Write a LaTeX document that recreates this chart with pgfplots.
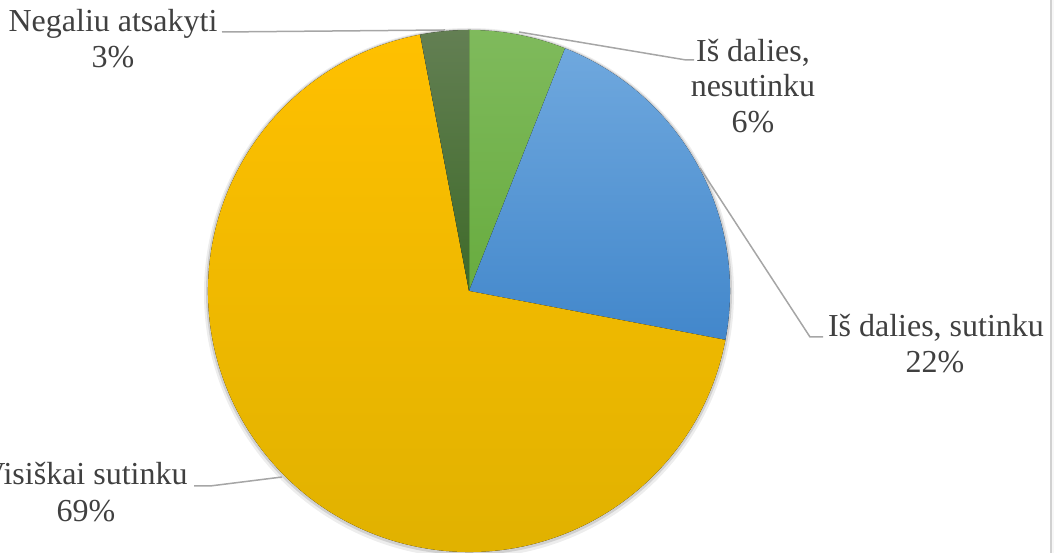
\documentclass[border=0pt]{standalone}
\usepackage{pgfplots}
\pgfplotsset{compat=1.18}
\usepackage{pgfplotstable}
\usepackage{fontspec}
\setmainfont{Liberation Serif}
\definecolor{txt}{HTML}{404040}
\definecolor{lead}{HTML}{A6A6A6}
\definecolor{gAt}{HTML}{7FBA5C}\definecolor{gAb}{HTML}{68AC3F}
\definecolor{bAt}{HTML}{6FA8DE}\definecolor{bAb}{HTML}{4287CB}
\definecolor{yAt}{HTML}{FFC000}\definecolor{yAb}{HTML}{DFB100}
\definecolor{dAt}{HTML}{637F53}\definecolor{dAb}{HTML}{3E6A29}
\pgfplotstableread{
value
6
22
69
3
}\piedata
\pgfplotstablegetelem{0}{value}\of\piedata \let\vA\pgfplotsretval
\pgfplotstablegetelem{1}{value}\of\piedata \let\vB\pgfplotsretval
\pgfplotstablegetelem{2}{value}\of\piedata \let\vC\pgfplotsretval
\pgfplotstablegetelem{3}{value}\of\piedata \let\vD\pgfplotsretval
\pgfmathsetmacro\aO{90}
\pgfmathsetmacro\aA{\aO-3.6*\vA}
\pgfmathsetmacro\aB{\aA-3.6*\vB}
\pgfmathsetmacro\aC{\aB-3.6*\vC}
\pgfmathsetmacro\aD{\aC-3.6*\vD}
\begin{document}
\begin{tikzpicture}
\useasboundingbox (0,0) rectangle (1054pt,553pt);
\begin{scope}[overlay]
\begin{axis}[at={(0,0)}, anchor=south west, scale only axis,
  width=1054pt, height=553pt, xmin=0, xmax=1054, ymin=0, ymax=553,
  hide axis, clip=false]
% right border
\fill[black!3] (axis cs:1051,0) rectangle (axis cs:1054,553);
\draw[black!18, line width=1.5pt] (axis cs:1051,0) -- (axis cs:1051,553);
% shadow
\fill[black, opacity=0.07] (axis cs:469,260) circle[radius=265pt];
\fill[black, opacity=0.12] (axis cs:469,261) circle[radius=263pt];
% slices
\fill[top color=gAt, bottom color=gAb] (axis cs:469,262) -- ++(\aO:261pt) arc[start angle=\aO, end angle=\aA, radius=261pt] -- cycle;
\fill[top color=bAt, bottom color=bAb] (axis cs:469,262) -- ++(\aA:261pt) arc[start angle=\aA, end angle=\aB, radius=261pt] -- cycle;
\fill[top color=yAt, bottom color=yAb] (axis cs:469,262) -- ++(\aB:261pt) arc[start angle=\aB, end angle=\aC, radius=261pt] -- cycle;
\fill[top color=dAt, bottom color=dAb] (axis cs:469,262) -- ++(\aC:261pt) arc[start angle=\aC, end angle=\aD, radius=261pt] -- cycle;
% leader lines
\draw[lead, line width=1.5pt] (axis cs:222,521) -- (axis cs:445,523);
\draw[lead, line width=1.5pt] (axis cs:519,521) -- (axis cs:686,493) -- (axis cs:694,493);
\draw[lead, line width=1.5pt] (axis cs:700,385) -- (axis cs:810,216) -- (axis cs:823,216);
\draw[lead, line width=1.5pt] (axis cs:194,67) -- (axis cs:210,67) -- (axis cs:282,76);
% labels
\node[anchor=base, text=txt, font=\fontsize{32}{37}\selectfont, inner sep=0pt] at (axis cs:113,521) {Negaliu atsakyti};
\node[anchor=base, text=txt, font=\fontsize{32}{37}\selectfont, inner sep=0pt] at (axis cs:113,485) {3\%};
\node[anchor=base, text=txt, font=\fontsize{32}{37}\selectfont, inner sep=0pt] at (axis cs:753,491) {Iš dalies,};
\node[anchor=base, text=txt, font=\fontsize{32}{37}\selectfont, inner sep=0pt] at (axis cs:753,456) {nesutinku};
\node[anchor=base, text=txt, font=\fontsize{32}{37}\selectfont, inner sep=0pt] at (axis cs:753,420) {6\%};
\node[anchor=base, text=txt, font=\fontsize{32}{37}\selectfont, inner sep=0pt] at (axis cs:936,216) {Iš dalies, sutinku};
\node[anchor=base, text=txt, font=\fontsize{32}{37}\selectfont, inner sep=0pt] at (axis cs:935,180) {22\%};
\node[anchor=base, text=txt, font=\fontsize{32}{37}\selectfont, inner sep=0pt] at (axis cs:85,68) {Visiškai sutinku};
\node[anchor=base, text=txt, font=\fontsize{32}{37}\selectfont, inner sep=0pt] at (axis cs:86,31) {69\%};
\end{axis}
\end{scope}
\end{tikzpicture}
\end{document}
